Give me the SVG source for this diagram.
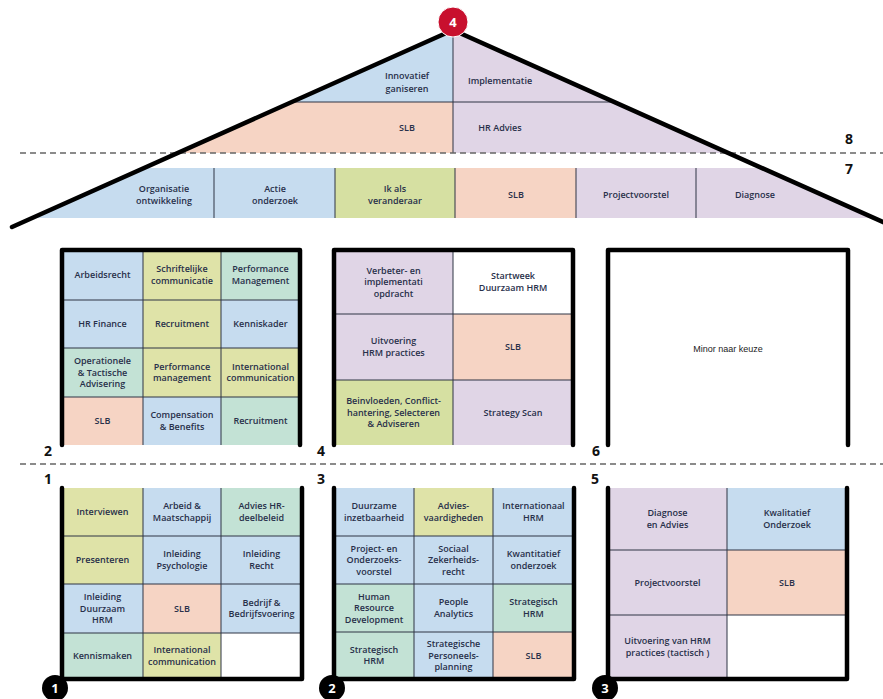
<svg xmlns="http://www.w3.org/2000/svg" width="883" height="699" viewBox="0 0 883 699">
<style>
.t{font-family:"Open Sans","Liberation Sans",sans-serif;font-size:9px;font-weight:600;fill:#28304a;text-anchor:middle}
.m{font-family:"Liberation Sans",Arial,sans-serif;font-size:9px;fill:#222;text-anchor:middle}
.n{font-family:"Open Sans","Liberation Sans",sans-serif;font-size:14px;font-weight:700;fill:#111;text-anchor:middle}
.cn{font-family:"Open Sans","Liberation Sans",sans-serif;font-size:13px;font-weight:700;fill:#fff;text-anchor:middle}
.blue{fill:#c6dcef}.yel{fill:#dfe3a8}.teal{fill:#c3e2d5}.sal{fill:#f6d4c4}.pur{fill:#e0d5e6}.wht{fill:#fff}.grn{fill:#d6e0a2}
.grid{stroke:#2f3444;stroke-width:1;fill:none}
.frame{stroke:#000;stroke-width:4.5;fill:none;stroke-linecap:round;stroke-linejoin:round}
.dash{stroke:#666;stroke-width:1.5;stroke-dasharray:6 4;fill:none}
</style>
<defs>
<clipPath id="roofclip"><polygon points="12,227 453,30 894,227"/></clipPath>
</defs>
<rect width="883" height="699" fill="#fff"/>

<g id="roof" clip-path="url(#roofclip)">
  <g id="roof-innovatief"><rect class="blue" x="0" y="0" width="453" height="102"/></g>
  <g id="roof-implementatie"><rect class="pur" x="453" y="0" width="430" height="102"/></g>
  <g id="roof-slb"><rect class="sal" x="0" y="102" width="453" height="51"/></g>
  <g id="roof-hradvies"><rect class="pur" x="453" y="102" width="430" height="51"/></g>
  <g id="band-organisatie"><rect class="blue" x="0" y="168" width="214" height="50"/></g>
  <g id="band-actie"><rect class="blue" x="214" y="168" width="121" height="50"/></g>
  <g id="band-ikals"><rect class="grn" x="335" y="168" width="120" height="50"/></g>
  <g id="band-slb"><rect class="sal" x="455" y="168" width="121" height="50"/></g>
  <g id="band-project"><rect class="pur" x="576" y="168" width="120" height="50"/></g>
  <g id="band-diagnose"><rect class="pur" x="696" y="168" width="200" height="50"/></g>
  <line class="grid" x1="0" y1="102" x2="883" y2="102"/>
  <line class="grid" x1="453" y1="0" x2="453" y2="153"/>
  <path class="grid" d="M214 168V218M335 168V218M455 168V218M576 168V218M696 168V218"/>
</g>
<g id="roof-texts">
  <text class="t" x="407" y="79">Innovatief</text>
  <text class="t" x="407" y="91.5">ganiseren</text>
  <text class="t" x="500" y="84">Implementatie</text>
  <text class="t" x="407" y="131">SLB</text>
  <text class="t" x="500" y="131">HR Advies</text>
  <text class="t" x="164" y="192.25">Organisatie</text>
  <text class="t" x="164" y="203.75">ontwikkeling</text>
  <text class="t" x="275" y="192.25">Actie</text>
  <text class="t" x="275" y="203.75">onderzoek</text>
  <text class="t" x="395" y="192.25">Ik als</text>
  <text class="t" x="395" y="203.75">veranderaar</text>
  <text class="t" x="516" y="198">SLB</text>
  <text class="t" x="636" y="198">Projectvoorstel</text>
  <text class="t" x="755" y="198">Diagnose</text>
</g>

<g id="blockA">
  <g id="a-arbeidsrecht"><rect class="blue" x="62" y="250" width="81" height="50"/><text class="t" x="102.5" y="278">Arbeidsrecht</text></g>
  <g id="a-schriftelijke"><rect class="yel" x="143" y="250" width="78" height="50"/><text class="t" x="182" y="272.25">Schriftelijke</text><text class="t" x="182" y="283.75">communicatie</text></g>
  <g id="a-performance1"><rect class="teal" x="221" y="250" width="79" height="50"/><text class="t" x="260.5" y="272.25">Performance</text><text class="t" x="260.5" y="283.75">Management</text></g>
  <g id="a-hrfinance"><rect class="blue" x="62" y="300" width="81" height="48"/><text class="t" x="102.5" y="327">HR Finance</text></g>
  <g id="a-recruitment1"><rect class="yel" x="143" y="300" width="78" height="48"/><text class="t" x="182" y="327">Recruitment</text></g>
  <g id="a-kenniskader"><rect class="blue" x="221" y="300" width="79" height="48"/><text class="t" x="260.5" y="327">Kenniskader</text></g>
  <g id="a-operationele"><rect class="teal" x="62" y="348" width="81" height="49"/><text class="t" x="102.5" y="364">Operationele</text><text class="t" x="102.5" y="375.5">&amp; Tactische</text><text class="t" x="102.5" y="387">Advisering</text></g>
  <g id="a-performance2"><rect class="yel" x="143" y="348" width="78" height="49"/><text class="t" x="182" y="369.75">Performance</text><text class="t" x="182" y="381.25">management</text></g>
  <g id="a-international"><rect class="yel" x="221" y="348" width="79" height="49"/><text class="t" x="260.5" y="369.75">International</text><text class="t" x="260.5" y="381.25">communication</text></g>
  <g id="a-slb"><rect class="sal" x="62" y="397" width="81" height="48"/><text class="t" x="102.5" y="424">SLB</text></g>
  <g id="a-compensation"><rect class="blue" x="143" y="397" width="78" height="48"/><text class="t" x="182" y="418.25">Compensation</text><text class="t" x="182" y="429.75">&amp; Benefits</text></g>
  <g id="a-recruitment2"><rect class="teal" x="221" y="397" width="79" height="48"/><text class="t" x="260.5" y="424">Recruitment</text></g>
  <path class="grid" d="M143 250V445M221 250V445M62 300H300M62 348H300M62 397H300"/>
</g>

<g id="blockB">
  <g id="b-verbeter"><rect class="pur" x="334" y="250" width="119" height="64"/><text class="t" x="393.5" y="273.5">Verbeter- en</text><text class="t" x="393.5" y="285">implementati</text><text class="t" x="393.5" y="296.5">opdracht</text></g>
  <g id="b-startweek"><rect class="wht" x="453" y="250" width="120" height="64"/><text class="t" x="513" y="279.25">Startweek</text><text class="t" x="513" y="290.75">Duurzaam HRM</text></g>
  <g id="b-uitvoering"><rect class="pur" x="334" y="314" width="119" height="66"/><text class="t" x="393.5" y="344.25">Uitvoering</text><text class="t" x="393.5" y="355.75">HRM practices</text></g>
  <g id="b-slb"><rect class="sal" x="453" y="314" width="120" height="66"/><text class="t" x="513" y="350">SLB</text></g>
  <g id="b-beinvloeden"><rect class="grn" x="334" y="380" width="119" height="65"/><text class="t" x="393.5" y="404">Beinvloeden, Conflict-</text><text class="t" x="393.5" y="415.5">hantering, Selecteren</text><text class="t" x="393.5" y="427">&amp; Adviseren</text></g>
  <g id="b-strategy"><rect class="pur" x="453" y="380" width="120" height="65"/><text class="t" x="513" y="415.5">Strategy Scan</text></g>
  <path class="grid" d="M453 250V445M334 314H573M334 380H573"/>
</g>

<g id="blockC">
  <g id="c-minor"><rect class="wht" x="608" y="250" width="240" height="195"/><text class="m" x="728" y="352">Minor naar keuze</text></g>
</g>

<g id="block1">
  <g id="l1-interviewen"><rect class="yel" x="62" y="488" width="81" height="48"/><text class="t" x="102.5" y="515">Interviewen</text></g>
  <g id="l1-arbeid"><rect class="blue" x="143" y="488" width="78" height="48"/><text class="t" x="182" y="509.25">Arbeid &amp;</text><text class="t" x="182" y="520.75">Maatschappij</text></g>
  <g id="l1-advies"><rect class="teal" x="221" y="488" width="81" height="48"/><text class="t" x="261.5" y="509.25">Advies HR-</text><text class="t" x="261.5" y="520.75">deelbeleid</text></g>
  <g id="l1-presenteren"><rect class="yel" x="62" y="536" width="81" height="48"/><text class="t" x="102.5" y="563">Presenteren</text></g>
  <g id="l1-psychologie"><rect class="blue" x="143" y="536" width="78" height="48"/><text class="t" x="182" y="557.25">Inleiding</text><text class="t" x="182" y="568.75">Psychologie</text></g>
  <g id="l1-recht"><rect class="blue" x="221" y="536" width="81" height="48"/><text class="t" x="261.5" y="557.25">Inleiding</text><text class="t" x="261.5" y="568.75">Recht</text></g>
  <g id="l1-duurzaam"><rect class="blue" x="62" y="584" width="81" height="49"/><text class="t" x="102.5" y="600">Inleiding</text><text class="t" x="102.5" y="611.5">Duurzaam</text><text class="t" x="102.5" y="623">HRM</text></g>
  <g id="l1-slb"><rect class="sal" x="143" y="584" width="78" height="49"/><text class="t" x="182" y="611.5">SLB</text></g>
  <g id="l1-bedrijf"><rect class="blue" x="221" y="584" width="81" height="49"/><text class="t" x="261.5" y="605.75">Bedrijf &amp;</text><text class="t" x="261.5" y="617.25">Bedrijfsvoering</text></g>
  <g id="l1-kennismaken"><rect class="teal" x="62" y="633" width="81" height="46"/><text class="t" x="102.5" y="659">Kennismaken</text></g>
  <g id="l1-international"><rect class="yel" x="143" y="633" width="78" height="46"/><text class="t" x="182" y="653.25">International</text><text class="t" x="182" y="664.75">communication</text></g>
  <g id="l1-empty"><rect class="wht" x="221" y="633" width="81" height="46"/></g>
  <path class="grid" d="M143 488V679M221 488V679M62 536H302M62 584H302M62 633H302"/>
</g>

<g id="block2">
  <g id="l2-duurzame"><rect class="blue" x="334" y="488" width="80" height="48"/><text class="t" x="374" y="509.25">Duurzame</text><text class="t" x="374" y="520.75">inzetbaarheid</text></g>
  <g id="l2-advies"><rect class="yel" x="414" y="488" width="79" height="48"/><text class="t" x="453.5" y="509.25">Advies-</text><text class="t" x="453.5" y="520.75">vaardigheden</text></g>
  <g id="l2-internationaal"><rect class="blue" x="493" y="488" width="81" height="48"/><text class="t" x="533.5" y="509.25">Internationaal</text><text class="t" x="533.5" y="520.75">HRM</text></g>
  <g id="l2-project"><rect class="blue" x="334" y="536" width="80" height="48"/><text class="t" x="374" y="551.5">Project- en</text><text class="t" x="374" y="563">Onderzoeks-</text><text class="t" x="374" y="574.5">voorstel</text></g>
  <g id="l2-sociaal"><rect class="blue" x="414" y="536" width="79" height="48"/><text class="t" x="453.5" y="551.5">Sociaal</text><text class="t" x="453.5" y="563">Zekerheids-</text><text class="t" x="453.5" y="574.5">recht</text></g>
  <g id="l2-kwantitatief"><rect class="blue" x="493" y="536" width="81" height="48"/><text class="t" x="533.5" y="557.25">Kwantitatief</text><text class="t" x="533.5" y="568.75">onderzoek</text></g>
  <g id="l2-hrd"><rect class="teal" x="334" y="584" width="80" height="48"/><text class="t" x="374" y="599.5">Human</text><text class="t" x="374" y="611">Resource</text><text class="t" x="374" y="622.5">Development</text></g>
  <g id="l2-people"><rect class="blue" x="414" y="584" width="79" height="48"/><text class="t" x="453.5" y="605.25">People</text><text class="t" x="453.5" y="616.75">Analytics</text></g>
  <g id="l2-strategisch1"><rect class="teal" x="493" y="584" width="81" height="48"/><text class="t" x="533.5" y="605.25">Strategisch</text><text class="t" x="533.5" y="616.75">HRM</text></g>
  <g id="l2-strategisch2"><rect class="teal" x="334" y="632" width="80" height="47"/><text class="t" x="374" y="652.75">Strategisch</text><text class="t" x="374" y="664.25">HRM</text></g>
  <g id="l2-personeels"><rect class="blue" x="414" y="632" width="79" height="47"/><text class="t" x="453.5" y="647">Strategische</text><text class="t" x="453.5" y="658.5">Personeels-</text><text class="t" x="453.5" y="670">planning</text></g>
  <g id="l2-slb"><rect class="sal" x="493" y="632" width="81" height="47"/><text class="t" x="533.5" y="658.5">SLB</text></g>
  <path class="grid" d="M414 488V679M493 488V679M334 536H574M334 584H574M334 632H574"/>
</g>

<g id="block3">
  <g id="l3-diagnose"><rect class="pur" x="608" y="488" width="119" height="62"/><text class="t" x="667.5" y="516.25">Diagnose</text><text class="t" x="667.5" y="527.75">en Advies</text></g>
  <g id="l3-kwalitatief"><rect class="blue" x="727" y="488" width="120" height="62"/><text class="t" x="787" y="516.25">Kwalitatief</text><text class="t" x="787" y="527.75">Onderzoek</text></g>
  <g id="l3-project"><rect class="pur" x="608" y="550" width="119" height="65"/><text class="t" x="667.5" y="585.5">Projectvoorstel</text></g>
  <g id="l3-slb"><rect class="sal" x="727" y="550" width="120" height="65"/><text class="t" x="787" y="585.5">SLB</text></g>
  <g id="l3-uitvoering"><rect class="pur" x="608" y="615" width="119" height="64"/><text class="t" x="667.5" y="644.25">Uitvoering van HRM</text><text class="t" x="667.5" y="655.75">practices (tactisch )</text></g>
  <g id="l3-empty"><rect class="wht" x="727" y="615" width="120" height="64"/></g>
  <path class="grid" d="M727 488V679M608 550H847M608 615H847"/>
</g>

<g id="lines">
  <line class="dash" x1="20" y1="153" x2="883" y2="153"/>
  <line class="dash" x1="20" y1="464" x2="883" y2="464"/>
  <polyline class="frame" points="12,227 453,30 894,227"/>
  <path class="frame" d="M62 445V250H300V445"/>
  <path class="frame" d="M334 445V250H573V445"/>
  <path class="frame" d="M608 445V250H848V445"/>
  <path class="frame" d="M62 488V679H302V488"/>
  <path class="frame" d="M334 488V679H574V488"/>
  <path class="frame" d="M608 488V679H847V488"/>
</g>

<g id="labels">
  <text class="n" x="849" y="144">8</text>
  <text class="n" x="849" y="174">7</text>
  <text class="n" x="48" y="456">2</text>
  <text class="n" x="321" y="456">4</text>
  <text class="n" x="596" y="456">6</text>
  <text class="n" x="48" y="484">1</text>
  <text class="n" x="321" y="484">3</text>
  <text class="n" x="595" y="484">5</text>
</g>

<g id="badge-top"><circle cx="453" cy="22" r="15" fill="#c8102e" stroke="#fff" stroke-width="1"/><text class="cn" x="453" y="27">4</text></g>
<g id="badge-1"><circle cx="55" cy="688" r="13" fill="#000"/><text class="cn" x="55" y="693">1</text></g>
<g id="badge-2"><circle cx="332" cy="688" r="13" fill="#000"/><text class="cn" x="332" y="693">2</text></g>
<g id="badge-3"><circle cx="605" cy="688" r="13" fill="#000"/><text class="cn" x="605" y="693">3</text></g>
</svg>
